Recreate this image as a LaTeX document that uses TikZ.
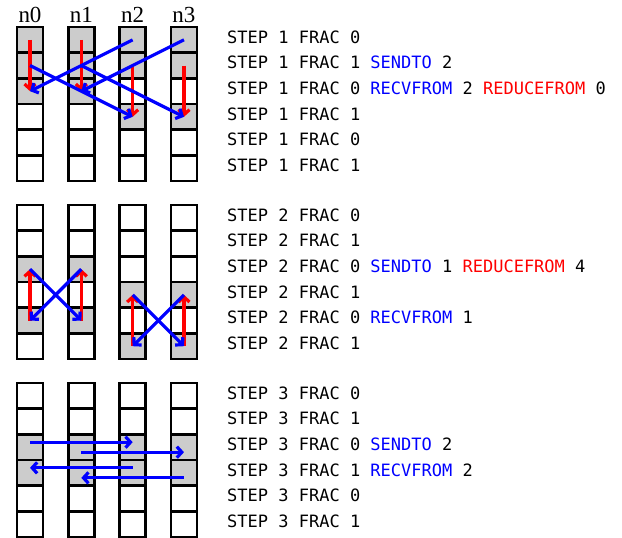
\documentclass[tikz,border=0pt]{standalone}
\usepackage{fontspec}
\setmainfont{Liberation Serif}
\newfontfamily\monofont{DejaVu Sans Mono}
\usetikzlibrary{arrows.meta,backgrounds}
\begin{document}
\begin{tikzpicture}[x=1pt,y=-1pt,
  cell/.style={draw=black,line width=2.8pt,minimum width=26pt,minimum height=25.67pt,inner sep=0pt,outer sep=0pt},
  shade/.style={fill=black!20},
  tx/.style={anchor=west,font=\monofont\fontsize{17}{17}\selectfont,inner sep=0pt},
  lab/.style={font=\fontsize{23}{23}\selectfont,inner sep=0pt,anchor=base},
  ra/.style={draw=red,line width=3.2pt,-{Straight Barb[length=5pt,width=11pt]}},
  ba/.style={ra,draw=blue},
]
\useasboundingbox (0,0) rectangle (622,538);
% cells
\foreach \s/\top in {1/27,2/205,3/383}{
  \foreach \c in {0,...,3}{
    \foreach \r in {1,...,6}{
      \node[cell] (c\s\c\r) at ({30+51.33*\c},{\top+(\r-0.5)*25.67}) {};
    }}}
% shaded cells
\begin{scope}[on background layer]
\foreach \n in {c101,c102,c103,c111,c112,c113,c121,c122,c124,c131,c132,c134,
  c203,c205,c213,c215,c224,c226,c234,c236,
  c303,c304,c313,c314,c323,c324,c333,c334}
  \fill[shade] (\n.north west) rectangle (\n.south east);
\end{scope}
% column labels
\foreach \c in {0,...,3}
  \node[lab] (n\c) at ({30+51.33*\c},23) {n\c};
% step 1 arrows
\draw[ra] (c101.center) -- (c103.center);
\draw[ra] (c111.center) -- (c113.center);
\draw[ra] (c122.center) -- (c124.center);
\draw[ra] (c132.center) -- (c134.center);
\draw[ba] (c121.center) -- (c103.center);
\draw[ba] (c131.center) -- (c113.center);
\draw[ba] (c102.center) -- (c124.center);
\draw[ba] (c112.center) -- (c134.center);
% step 2 arrows
\draw[ra] (c205.center) -- (c203.center);
\draw[ra] (c215.center) -- (c213.center);
\draw[ra] (c226.center) -- (c224.center);
\draw[ra] (c236.center) -- (c234.center);
\draw[ba] (c203.center) -- (c215.center);
\draw[ba] (c213.center) -- (c205.center);
\draw[ba] (c224.center) -- (c236.center);
\draw[ba] (c234.center) -- (c226.center);
% step 3 arrows
\draw[ba] ([yshift=5pt]c303.center) -- ([yshift=5pt]c323.center);
\draw[ba] ([yshift=-5pt]c313.center) -- ([yshift=-5pt]c333.center);
\draw[ba] ([yshift=5pt]c324.center) -- ([yshift=5pt]c304.center);
\draw[ba] ([yshift=-5pt]c334.center) -- ([yshift=-5pt]c314.center);
% text
\def\B#1{{\color{blue}#1}}
\def\R#1{{\color{red}#1}}
\foreach \s/\top in {1/27,2/205,3/383}{
  \foreach \r in {1,...,6}{
    \coordinate (p\s\r) at (227,{\top+(\r-0.5)*25.67-3});
  }}
\node[tx] (t11) at (p11) {STEP 1 FRAC 0};
\node[tx] (t12) at (p12) {STEP 1 FRAC 1 \B{SENDTO} 2};
\node[tx] (t13) at (p13) {STEP 1 FRAC 0 \B{RECVFROM} 2 \R{REDUCEFROM} 0};
\node[tx] (t14) at (p14) {STEP 1 FRAC 1};
\node[tx] (t15) at (p15) {STEP 1 FRAC 0};
\node[tx] (t16) at (p16) {STEP 1 FRAC 1};
\node[tx] (t21) at (p21) {STEP 2 FRAC 0};
\node[tx] (t22) at (p22) {STEP 2 FRAC 1};
\node[tx] (t23) at (p23) {STEP 2 FRAC 0 \B{SENDTO} 1 \R{REDUCEFROM} 4};
\node[tx] (t24) at (p24) {STEP 2 FRAC 1};
\node[tx] (t25) at (p25) {STEP 2 FRAC 0 \B{RECVFROM} 1};
\node[tx] (t26) at (p26) {STEP 2 FRAC 1};
\node[tx] (t31) at (p31) {STEP 3 FRAC 0};
\node[tx] (t32) at (p32) {STEP 3 FRAC 1};
\node[tx] (t33) at (p33) {STEP 3 FRAC 0 \B{SENDTO} 2};
\node[tx] (t34) at (p34) {STEP 3 FRAC 1 \B{RECVFROM} 2};
\node[tx] (t35) at (p35) {STEP 3 FRAC 0};
\node[tx] (t36) at (p36) {STEP 3 FRAC 1};
\end{tikzpicture}
\end{document}
